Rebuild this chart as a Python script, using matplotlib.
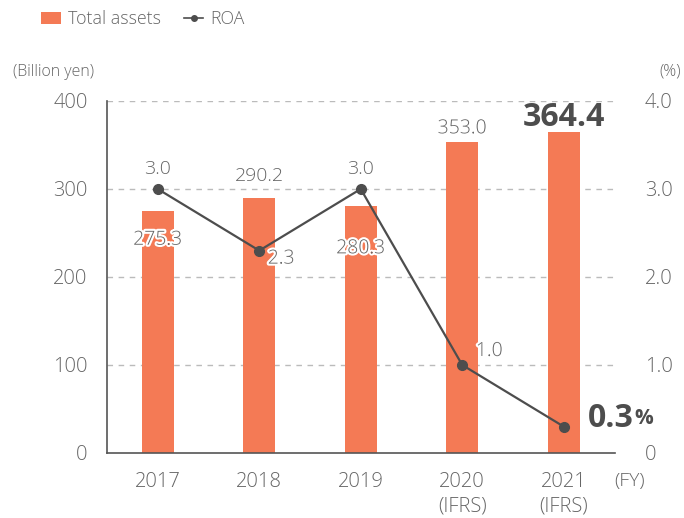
import matplotlib
matplotlib.use("Agg")
import matplotlib.pyplot as plt
import matplotlib.patheffects as pe
from matplotlib.lines import Line2D
from matplotlib.patches import Patch

years = ["2017", "2018", "2019", "2020\n(IFRS)", "2021\n(IFRS)"]
assets = [275.3, 290.2, 280.3, 353.0, 364.4]
roa = [3.0, 2.3, 3.0, 1.0, 0.3]
left_ticks = [0, 100, 200, 300, 400]
right_ticks = [0, 1.0, 2.0, 3.0, 4.0]
right_tick_labels = ["0", "1.0", "2.0", "3.0", "4.0"]

BAR = "#F47A55"
LINE = "#4D4D4D"
TXT = "#666666"
plt.rcParams['font.family'] = ['Open Sans', 'DejaVu Sans']
plt.rcParams['font.weight'] = 'light'

fig = plt.figure(figsize=(6.84, 5.18), dpi=100)
W, H = 684, 518
ax = fig.add_axes([107 / W, 1 - 453 / H, (614.5 - 107) / W, (453 - 101) / H])
x = list(range(len(years)))
ax.bar(x, assets, width=0.315, color=BAR, zorder=2)
ax.set_xlim(-0.5, 4.5)
ax.set_ylim(0, 400)
ax.set_yticks(left_ticks)
ax.set_yticklabels([str(t) for t in left_ticks])
ax.set_xticks(x)
ax.set_xticklabels(years, linespacing=1.25)
for s in ["top", "right"]:
    ax.spines[s].set_visible(False)
for s in ["left", "bottom"]:
    ax.spines[s].set_color("#555555")
    ax.spines[s].set_linewidth(1.2)
ax.tick_params(axis="both", length=0, labelsize=14.5, colors=TXT)
ax.tick_params(axis="y", pad=14)
ax.tick_params(axis="x", pad=14)
for t in [100, 200, 300, 400]:
    ax.axhline(t, color="#BBBBBB", linestyle=(0, (4, 4)), linewidth=1, zorder=1)

ax2 = ax.twinx()
ax2.set_ylim(0, 4.0)
ax2.set_yticks(right_ticks)
ax2.set_yticklabels(right_tick_labels)
for s in ["top", "right", "left", "bottom"]:
    ax2.spines[s].set_visible(False)
ax2.tick_params(axis="y", length=0, labelsize=14.5, colors=TXT, pad=22)
ax2.plot(x, roa, color=LINE, linewidth=1.6, marker="o", markersize=7, zorder=3)

halo = [pe.withStroke(linewidth=3, foreground="white")]
fs = 14
# asset labels
ax.annotate(f"{assets[0]:.1f}", (0, assets[0]), xytext=(0, -29), textcoords="offset pixels",
            ha="center", va="center", fontsize=fs, color=TXT, path_effects=halo, zorder=5)
ax.annotate(f"{assets[1]:.1f}", (1, assets[1]), xytext=(0, 22), textcoords="offset pixels",
            ha="center", va="center", fontsize=fs, color=TXT, zorder=5)
ax.annotate(f"{assets[2]:.1f}", (2, assets[2]), xytext=(0, -42), textcoords="offset pixels",
            ha="center", va="center", fontsize=fs, color=TXT, path_effects=halo, zorder=5)
ax.annotate(f"{assets[3]:.1f}", (3, assets[3]), xytext=(0, 14), textcoords="offset pixels",
            ha="center", va="center", fontsize=fs, color=TXT, path_effects=halo, zorder=5)
ax.annotate(f"{assets[4]:.1f}", (4, assets[4]), xytext=(0, 15), textcoords="offset pixels",
            ha="center", va="center", fontsize=23, fontweight="bold", color="#4D4D4D", zorder=5)
# ROA labels
ax2.annotate(f"{roa[0]:.1f}", (0, roa[0]), xytext=(0, 20), textcoords="offset pixels",
             ha="center", va="center", fontsize=fs, color=TXT, zorder=5)
ax2.annotate(f"{roa[1]:.1f}", (1, roa[1]), xytext=(22, -8), textcoords="offset pixels",
             ha="center", va="center", fontsize=fs, color=TXT, path_effects=halo, zorder=5)
ax2.annotate(f"{roa[2]:.1f}", (2, roa[2]), xytext=(0, 20), textcoords="offset pixels",
             ha="center", va="center", fontsize=fs, color=TXT, zorder=5)
ax2.annotate(f"{roa[3]:.1f}", (3, roa[3]), xytext=(27, 14), textcoords="offset pixels",
             ha="center", va="center", fontsize=fs, color=TXT, path_effects=halo, zorder=5)
ax2.annotate(f"{roa[4]:.1f}", (4, roa[4]), xytext=(24, 8), textcoords="offset pixels",
             ha="left", va="center", fontsize=23, fontweight="bold", color="#4D4D4D", zorder=5)
fig.text(634 / W, 1 - 419 / H, "%", fontsize=15, fontweight="bold", color="#4D4D4D", ha="left", va="center")

fig.text(13 / W, 1 - 72 / H, "(Billion yen)", fontsize=11.5, color=TXT, ha="left", va="center")
fig.text(681 / W, 1 - 72 / H, "(%)", fontsize=11.5, color=TXT, ha="right", va="center")
fig.text(614 / W, 1 - 481 / H, "(FY)", fontsize=14, color=TXT, ha="left", va="center")

handles = [Patch(facecolor=BAR, edgecolor="none"),
           Line2D([0], [0], color=LINE, marker="o", markersize=4, linewidth=1.2)]
fig.legend(handles, ["Total assets", "ROA"], loc="center left", bbox_to_anchor=(25 / W, 1 - 19 / H),
           frameon=False, ncol=2, fontsize=12.8, handlelength=1.1, handletextpad=0.4,
           columnspacing=1.3, labelcolor=TXT)

fig.savefig("out.png", dpi=100)
